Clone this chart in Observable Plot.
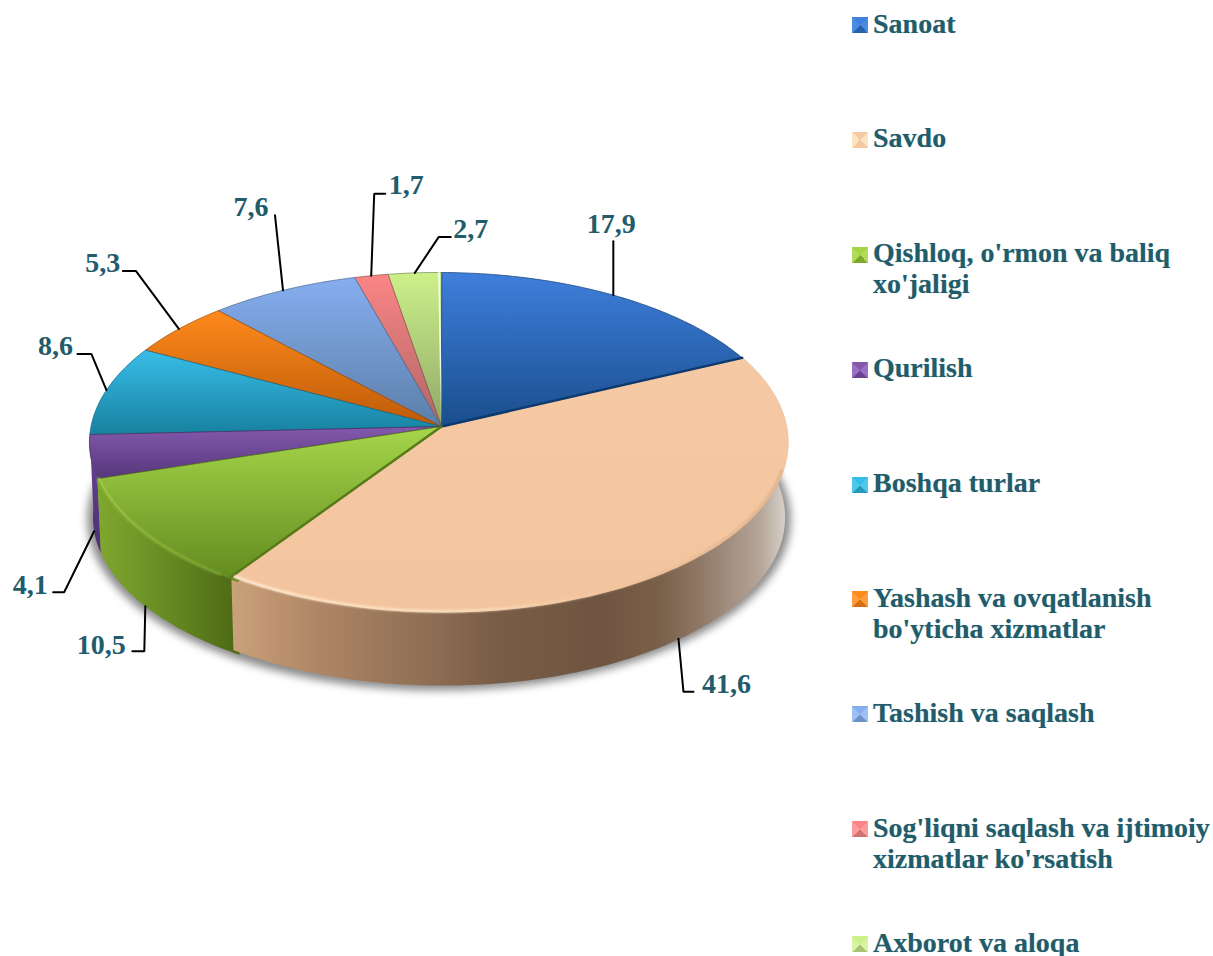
<!DOCTYPE html>
<html>
<head>
<meta charset="utf-8">
<script src="https://cdn.jsdelivr.net/npm/d3@7"></script>
<script src="https://cdn.jsdelivr.net/npm/@observablehq/plot@0.6"></script>
<style>
html,body{margin:0;padding:0;background:#fff;width:1213px;height:956px;overflow:hidden}
#wrap{display:flex;width:1213px;height:956px}
#chart{width:850px;flex:none}
#chart svg{display:block;background:transparent}
#legend{flex:none;width:363px;height:956px;padding:7.5px 0 0 2px;box-sizing:border-box;display:grid;grid-template-rows:repeat(8,114.9px) auto;
  font:bold 28px/31px "Liberation Serif",serif;color:#225c6b}
.item{display:flex;align-items:flex-start;white-space:pre;text-shadow:0 0 1px rgba(34,92,107,.35)}
.sw{width:16px;height:16px;flex:none;margin:9.5px 5px 0 0}
</style>
</head>
<body>
<div id="wrap"><div id="chart"></div><div id="legend"></div></div>
<script>
// Data
const categories = ["Sanoat","Savdo","Qishloq, o'rmon va baliq\nxo'jaligi","Qurilish","Boshqa turlar","Yashash va ovqatlanish\nbo'yticha xizmatlar","Tashish va saqlash","Sog'liqni saqlash va ijtimoiy\nxizmatlar ko'rsatish","Axborot va aloqa"];
const values = [17.9,41.6,10.5,4.1,8.6,5.3,7.6,1.7,2.7];
const topLight = ["#3f7fdd","#f5c9a3","#a5d64a","#8459ad","#38bde8","#ff8a1c","#86aef0","#fb8585","#cdf08a"];
const topDark  = ["#194e8c","#f3c59f","#628a1f","#55377a","#17819f","#bd5a08","#5b7fa8","#b06666","#8fa868"];
const swatchSide = ["#4b8be0","#fde3c0","#b4dc5c","#9a70c4","#4fc8ec","#ff9c3c","#9dbff4","#fc9c9c","#d8f4a0"];

// Layout of the labels: leader bends and label centres, as pixel offsets from the rim anchor
const leaderBends = [[[0,-54]],[[5,53],[15,53]],[[-1,45],[-13,45]],[[-30,61],[-41,61]],[[-15,-36],[-29,-36]],[[-43,-58],[-56,-58]],[[-8,-75]],[[3,-82],[14,-82]],[[24,-36],[36,-36]]];
const labelOffset = [[-2,-71],[48,45],[-44,39],[-64,54],[-51,-44],[-76,-66],[-32,-83],[35,-91],[56,-44]];
const onWall = [false,true,true,true,false,false,false,false,false];

// Perspective disc
const K = 0.094, RX = 348, RY = 168.5, CX = 438.5, CY = 426, TURN = 0.5;
const DROP = 75 / RY, SHRINK = 0.99, PEACH_SKEW = 0.0125;
function rim(deg, s = 1, drop = 0, skew = 0) {
  const a = (deg + TURN) * Math.PI / 180, u = Math.sin(a), v = Math.cos(a), w = 1 + K * v;
  const x = u / w * s;
  return {x: x + skew * (1 - x), y: v / w * s - drop};
}
const range = (a, b) => d3.range(a, b, 1).concat([b]);
const cum = d3.cumsum(values);
const startDeg = values.map((v, i) => (cum[i] - v) * 3.6);
const endDeg = values.map((v, i) => cum[i] * 3.6);
const midDeg = values.map((v, i) => (cum[i] - v / 2) * 3.6);
const apex = {x: 2.5 / RX, y: 0};
const skewOf = i => i === 1 ? PEACH_SKEW : 0;
const under = i => i === 2 ? 2.5 : 0; // the green slice runs on a little under the peach one
const sliceTop = i => [apex, ...range(startDeg[i] - under(i), endDeg[i]).map(d => rim(d, 1, 0, skewOf(i))), apex];
const wall = i => {
  const ds = range(startDeg[i] - under(i), endDeg[i]);
  const t = ds.map(d => rim(d, 1, 0, skewOf(i)));
  const b = ds.slice().reverse().map(d => rim(d, SHRINK, DROP, skewOf(i)));
  return [...t, ...b, t[0]];
};
const px = ([dx, dy]) => ({dx: dx / RX, dy: -dy / RY});
const anchor = i => onWall[i] ? rim(midDeg[i], SHRINK, DROP) : rim(midDeg[i]);
const leaders = values.map((_, i) => {
  const a = anchor(i);
  return [a, ...leaderBends[i].map(b => { const o = px(b); return {x: a.x + o.dx, y: a.y + o.dy}; })];
});
const labels = values.map((v, i) => {
  const a = anchor(i), o = px(labelOffset[i]);
  return {x: a.x + o.dx, y: a.y + o.dy, text: String(v).replace(".", ",")};
});

function defs() {
  const g = d3.create("svg:defs");
  const grad = (id, stops, horizontal) => {
    const l = g.append("linearGradient").attr("id", id).attr("x1", 0).attr("y1", 0)
      .attr("x2", horizontal ? 1 : 0).attr("y2", horizontal ? 0 : 1);
    stops.forEach(([o, c, op]) => l.append("stop").attr("offset", o).attr("stop-color", c).attr("stop-opacity", op ?? 1));
  };
  values.forEach((_, i) => grad("top" + i, [[0, topLight[i]], [1, topDark[i]]]));
  grad("wallPeach", [[0, "#c9a27a"], [0.1, "#b98f6c"], [0.21, "#a57f60"], [0.37, "#8c6c52"], [0.48, "#785c46"], [0.66, "#6f5541"], [0.77, "#7a604a"], [0.84, "#8f7866"], [0.95, "#b5a698"], [1, "#dcd6d0"]], true);
  grad("wallGreen", [[0, "#7fa82e"], [0.5, "#668a22"], [1, "#4d6816"]], true);
  grad("wallPurple", [[0, "#6a4496"], [1, "#4d2f74"]], false);
  grad("rimPeach", [[0, "#ffeed6"], [0.45, "#ffe3c2", 0.85], [0.75, "#e8bc92", 0.5], [1, "#c9a07c", 0.6]], true);
  grad("rimGreen", [[0, "#a9d450", 0.8], [1, "#86ae36", 0.8]], true);
  grad("gapWhite", [[0, "#ffffff"], [0.55, "#ffffff", 0.9], [1, "#ffffff", 0]]);
  return g.node();
}

const poly = (data, opts) => Plot.line(data, {x: "x", y: "y", z: null, curve: "linear", ...opts});
const shadowRing = range(0, 360).map(d => rim(d, 1.006, DROP + 0.01));
const marks = [
  defs,
  poly(shadowRing, {fill: "#3a3a3a", fillOpacity: 0.6, stroke: "none", imageFilter: "blur(4px)"}),
  poly(wall(3), {fill: "url(#wallPurple)", stroke: "none"}),
  poly(wall(2), {fill: "url(#wallGreen)", stroke: "none"}),
  poly(wall(1), {fill: "url(#wallPeach)", stroke: "none"})
];
// top faces, back slices first so the front ones overlap their edges
[8,7,6,5,4,3,0,2,1].forEach(i => {
  marks.push(poly(sliceTop(i), {fill: `url(#top${i})`, stroke: d3.color(topDark[i]).darker(0.6).formatHex(), strokeWidth: i === 1 ? 0 : 0.7, strokeLinejoin: "round"}));
});
// heavier edges where slices meet
marks.push(poly([apex, rim(endDeg[0])], {stroke: "#0d3a6e", strokeWidth: 2.5}));
marks.push(poly([apex, rim(startDeg[2], 1, 0, PEACH_SKEW)], {stroke: "#567a18", strokeWidth: 2.5}));
marks.push(poly([rim(-TURN), apex], {stroke: "url(#gapWhite)", strokeWidth: 1.5}));
// bevel highlight along the front rim
marks.push(poly(range(startDeg[1] + 40, endDeg[1] - 0.5).map(d => rim(d, 0.994, 0, PEACH_SKEW)).reverse(), {stroke: "url(#rimPeach)", strokeWidth: 2.5, imageFilter: "blur(1px)"}));
marks.push(poly(range(startDeg[2] + 1, endDeg[2]).map(d => rim(d, 0.997)).reverse(), {stroke: "url(#rimGreen)", strokeWidth: 2.5, imageFilter: "blur(1px)"}));
// leaders and labels
leaders.forEach(l => marks.push(poly(l, {stroke: "#000", strokeWidth: 2, strokeLinejoin: "miter"})));
marks.push(Plot.text(labels, {x: "x", y: "y", text: "text", fill: "#225c6b", fontSize: 28, fontWeight: "bold", fontFamily: "Liberation Serif", lineAnchor: "middle", textAnchor: "middle"}));

const chart = Plot.plot({
  width: 850, height: 956, margin: 0,
  x: {axis: null, type: "linear", domain: [-1, 1], range: [CX - RX, CX + RX]},
  y: {axis: null, type: "linear", domain: [-1, 1], range: [CY + RY, CY - RY]},
  style: {background: "transparent", overflow: "visible"},
  marks
});
document.getElementById("chart").appendChild(chart);

const legend = d3.select("#legend");
categories.forEach((c, i) => {
  const item = legend.append("div").attr("class", "item");
  const bottom = d3.interpolateRgb(topLight[i], topDark[i])(0.6);
  item.append("div").attr("class", "sw").style("background",
    `conic-gradient(from -45deg, ${topLight[i]} 0 25%, ${swatchSide[i]} 25% 50%, ${bottom} 50% 75%, ${swatchSide[i]} 75%)`);
  item.append("div").text(c);
});
</script>
</body>
</html>
